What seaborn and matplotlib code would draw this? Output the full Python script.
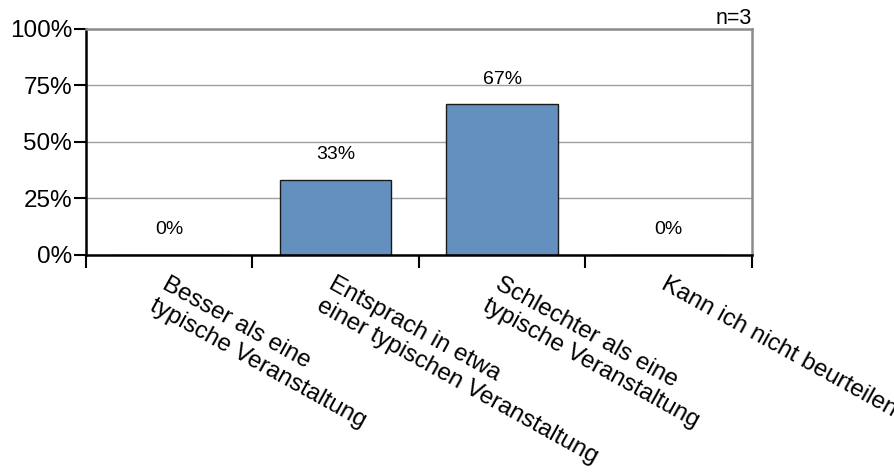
import pandas as pd
import numpy as np
import matplotlib
matplotlib.use("Agg")
import matplotlib.pyplot as plt
import seaborn as sns

# data
categories = [
    "Besser als eine\ntypische Veranstaltung",
    "Entsprach in etwa\neiner typischen Veranstaltung",
    "Schlechter als eine\ntypische Veranstaltung",
    "Kann ich nicht beurteilen",
]
counts = [0, 1, 2, 0]
n_total = 3
shares = [c / n_total * 100 for c in counts]
y_ticks = [0, 25, 50, 75, 100]
y_tick_labels = ["0%", "25%", "50%", "75%", "100%"]

df = pd.DataFrame({"Antwort": categories, "Anteil": shares})

sns.set_theme(style="white")
plt.rcParams["font.family"] = ["Liberation Sans", "DejaVu Sans"]

fig = plt.figure(figsize=(8.95, 4.73), dpi=100)
ax = fig.add_axes([0.0961, 0.461, 0.744, 0.478])

sns.barplot(data=df, x="Antwort", y="Anteil", color="#6490c0", saturation=1,
            width=0.67, edgecolor="#1a1a1a", linewidth=1, ax=ax)

ax.set_ylim(0, 100)
ax.set_xlim(-0.5, len(categories) - 0.5)
ax.set_yticks(y_ticks)
ax.set_yticklabels(y_tick_labels, fontsize=17.5, color="black")
ax.yaxis.grid(True, color="#a0a0a0", linewidth=1)
ax.set_axisbelow(True)

# x ticks at category boundaries, labels at centers
ax.set_xticks(np.arange(len(categories)))
ax.set_xticklabels([])
ax.set_xticks(np.arange(-0.5, len(categories), 1), minor=True)
ax.tick_params(axis="x", which="major", length=0)
ax.tick_params(axis="x", which="minor", length=9, width=1.5, color="black", direction="out", bottom=True)
ax.tick_params(axis="y", length=9, width=1.5, color="black", direction="out", left=True, pad=1)

for i, lab in enumerate(categories):
    ax.annotate(lab, xy=(i, 0), xycoords=("data", "axes fraction"),
                xytext=(0, -13), textcoords="offset points",
                rotation=-29, rotation_mode="anchor", ha="left", va="top",
                multialignment="left", fontsize=17.5, color="black",
                annotation_clip=False)

# value labels
for i, v in enumerate(shares):
    ax.annotate(f"{v:.0f}%", xy=(i, v), xytext=(0, 18),
                textcoords="offset points", ha="center", va="center",
                fontsize=14, color="black")

ax.text(1.0, 1.0, f"n={n_total}", transform=ax.transAxes, ha="right", va="bottom",
        fontsize=15.5, color="black")

for side in ["left", "bottom"]:
    ax.spines[side].set_color("black")
    ax.spines[side].set_linewidth(1.8)
for side in ["top", "right"]:
    ax.spines[side].set_color("#8c8c8c")
    ax.spines[side].set_linewidth(1.8)

ax.set_xlabel("")
ax.set_ylabel("")

fig.savefig("out.png", dpi=100, facecolor="white")
